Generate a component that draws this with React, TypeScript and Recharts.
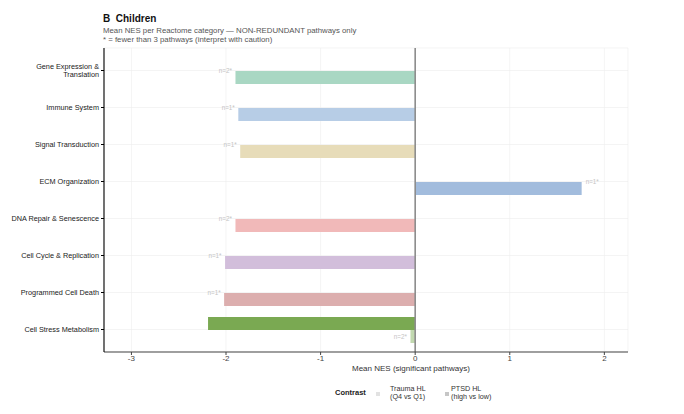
import React from 'react';
import {
  BarChart,
  Bar,
  XAxis,
  YAxis,
  CartesianGrid,
  ReferenceLine,
  Cell,
  LabelList,
} from 'recharts';

const categories = [
  'Gene Expression &\nTranslation',
  'Immune System',
  'Signal Transduction',
  'ECM Organization',
  'DNA Repair & Senescence',
  'Cell Cycle & Replication',
  'Programmed Cell Death',
  'Cell Stress Metabolism',
];
const traumaNes = [-1.9, -1.87, -1.85, 1.76, -1.9, -2.01, -2.02, -0.05];
const ptsdNes = [null, null, null, null, null, null, null, -2.19];
const traumaN = [2, 1, 1, 1, 2, 1, 1, 2];
const ptsdN = [null, null, null, null, null, null, null, 1];
const traumaColors = ['#a9d7c3', '#b7cde6', '#e7dcb9', '#a2bcdd', '#f1b9b9', '#d2bedb', '#dcaeae', '#c2d9b0'];
const ptsdColors = ['#5fb08a', '#6f9bcf', '#cdb86e', '#4f7fbf', '#e06f6f', '#a27cb8', '#b85d5d', '#7aa952'];
const xTicks = [-3, -2, -1, 0, 1, 2];

const rows = categories.map((category, i) => ({
  category,
  trauma: traumaNes[i],
  ptsd: ptsdNes[i],
}));

const FONT = '"Liberation Sans", Arial, sans-serif';

function CategoryTick({ x, y, payload }: any) {
  const lines = String(payload.value).split('\n');
  const start = -((lines.length - 1) * 8) / 2;
  return (
    <text x={x} y={y} textAnchor="end" fontSize={7.3} fill="#1a1a1a" fontFamily={FONT}>
      {lines.map((line, k) => (
        <tspan key={k} x={x} dy={k === 0 ? start + 2.6 : 8}>
          {line}
        </tspan>
      ))}
    </text>
  );
}

const countLabel = (series: 'trauma' | 'ptsd') => (props: any) => {
  const index = props.index;
  const vals = series === 'trauma' ? traumaNes : ptsdNes;
  const other = series === 'trauma' ? ptsdNes : traumaNes;
  const ns = series === 'trauma' ? traumaN : ptsdN;
  const v = vals[index];
  if (v == null) return null;
  const vb = props.viewBox || props;
  const x = vb.x ?? props.x;
  const y = vb.y ?? props.y;
  const w = vb.width ?? props.width;
  const h = vb.height ?? props.height;
  const left = Math.min(x, x + w);
  const right = Math.max(x, x + w);
  const cy = other[index] == null ? (series === 'trauma' ? y : y + h) : y + h / 2;
  return (
    <text
      x={v < 0 ? left - 3.5 : right + 4}
      y={cy}
      dy="0.35em"
      textAnchor={v < 0 ? 'end' : 'start'}
      fontSize={6.3}
      fill={series === 'trauma' ? '#c4c4c4' : '#8f8f8f'}
      fontFamily={FONT}
    >
      {`n=${ns[index]}*`}
    </text>
  );
};

export default function App() {
  return (
    <div
      style={{
        position: 'absolute',
        left: 0,
        top: 0,
        width: 684,
        height: 414,
        background: '#fff',
        fontFamily: FONT,
      }}
    >
      {/* Title */}
      <div style={{ position: 'absolute', left: 103, top: 13, fontSize: 10, fontWeight: 700, color: '#111' }}>
        B&nbsp;&nbsp;Children
      </div>
      <div style={{ position: 'absolute', left: 103, top: 27, fontSize: 7.8, color: '#555', lineHeight: '8.6px' }}>
        Mean NES per Reactome category — NON-REDUNDANT pathways only
        <br />* = fewer than 3 pathways (interpret with caution)
      </div>

      <BarChart
        width={684}
        height={414}
        data={rows}
        layout="vertical"
        margin={{ top: 48, right: 56, bottom: 48, left: 4 }}
        barSize={13}
        barGap={0}
      >
        <CartesianGrid stroke="#ececec" strokeWidth={0.6} />
        <XAxis
          type="number"
          domain={[-3.29, 2.25]}
          ticks={xTicks}
          allowDataOverflow
          height={14}
          tickSize={3}
          tickMargin={0}
          tick={{ fontSize: 8, fill: '#444', fontFamily: FONT }}
          axisLine={{ stroke: '#444', strokeWidth: 1.1 }}
          tickLine={{ stroke: '#444' }}
        />
        <YAxis
          type="category"
          dataKey="category"
          width={100}
          tickSize={3}
          interval={0}
          padding={{ top: 4, bottom: 4 }}
          tick={<CategoryTick />}
          axisLine={{ stroke: '#000', strokeWidth: 1.1 }}
          tickLine={{ stroke: '#000' }}
        />
        <Bar dataKey="ptsd" isAnimationActive={false}>
          {rows.map((_, i) => (
            <Cell key={i} fill={ptsdColors[i]} />
          ))}
          <LabelList dataKey="ptsd" content={countLabel('ptsd')} />
        </Bar>
        <Bar dataKey="trauma" isAnimationActive={false}>
          {rows.map((_, i) => (
            <Cell key={i} fill={traumaColors[i]} />
          ))}
          <LabelList dataKey="trauma" content={countLabel('trauma')} />
        </Bar>
        <ReferenceLine x={0} stroke="#8c8c8c" strokeWidth={1.6} />
      </BarChart>

      {/* Axis title */}
      <div style={{ position: 'absolute', left: 352, top: 364, fontSize: 8, color: '#333', whiteSpace: 'nowrap' }}>
        Mean NES (significant pathways)
      </div>

      {/* Legend */}
      <div style={{ position: 'absolute', left: 335, top: 388, fontSize: 7.5, fontWeight: 700, color: '#222' }}>
        Contrast
      </div>
      <div style={{ position: 'absolute', left: 376, top: 392, width: 3.5, height: 3.5, background: '#e2e2e2' }} />
      <div style={{ position: 'absolute', left: 390, top: 385, fontSize: 7.2, color: '#333', lineHeight: '8.4px' }}>
        Trauma HL
        <br />
        (Q4 vs Q1)
      </div>
      <div style={{ position: 'absolute', left: 445, top: 392, width: 3.5, height: 3.5, background: '#c6c6c6' }} />
      <div style={{ position: 'absolute', left: 451, top: 385, fontSize: 7.2, color: '#333', lineHeight: '8.4px' }}>
        PTSD HL
        <br />
        (high vs low)
      </div>
    </div>
  );
}
